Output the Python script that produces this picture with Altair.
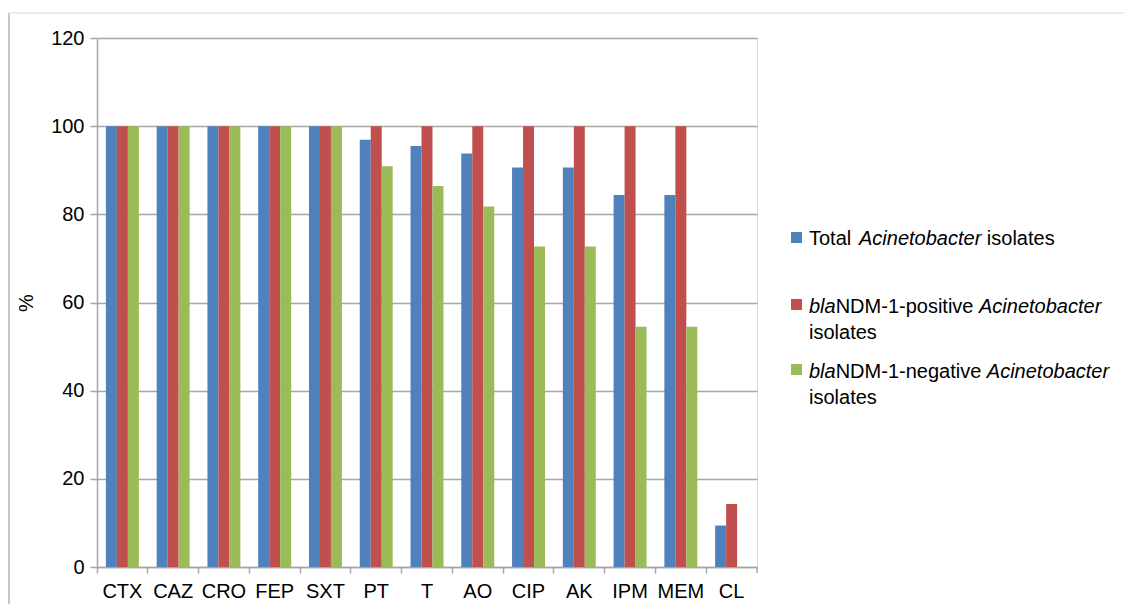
import altair as alt
import pandas as pd

drugs = ["CTX", "CAZ", "CRO", "FEP", "SXT", "PT", "T", "AO", "CIP", "AK", "IPM", "MEM", "CL"]
series = [
    "Total Acinetobacter isolates",
    "blaNDM-1-positive Acinetobacter isolates",
    "blaNDM-1-negative Acinetobacter isolates",
]
total = [100, 100, 100, 100, 100, 96.9, 95.5, 93.8, 90.6, 90.6, 84.4, 84.4, 9.4]
positive = [100, 100, 100, 100, 100, 100, 100, 100, 100, 100, 100, 100, 14.3]
negative = [100, 100, 100, 100, 100, 90.9, 86.4, 81.8, 72.7, 72.7, 54.5, 54.5, 0]
colors = ["#4F81BD", "#C0504D", "#9BBB59"]
y_ticks = [0, 20, 40, 60, 80, 100, 120]

rows = []
for s, vals in zip(series, [total, positive, negative]):
    for d, v in zip(drugs, vals):
        rows.append({"Drug": d, "Series": s, "Value": v})
df = pd.DataFrame(rows)
one = pd.DataFrame({"k": [0]})

W, H = 660, 529
FONT = "Liberation Sans"
FS = 20
GRID = "#a6a6a6"

bars = alt.Chart(df).mark_bar(stroke=None).encode(
    x=alt.X("Drug:N", sort=drugs, title=None,
            scale=alt.Scale(paddingInner=0, paddingOuter=0),
            axis=alt.Axis(labelAngle=0, bandPosition=0, tickSize=6, labelPadding=8,
                          domainColor=GRID, tickColor=GRID, domainWidth=1.5, tickWidth=1.5,
                          labelFont=FONT, labelFontSize=FS, labelColor="#000000", grid=False)),
    xOffset=alt.XOffset("Series:N", sort=series,
                        scale=alt.Scale(paddingInner=0, paddingOuter=0.81)),
    y=alt.Y("Value:Q", title="%", scale=alt.Scale(domain=[0, 120], nice=False),
            axis=alt.Axis(values=y_ticks, tickSize=7, labelPadding=6, grid=True,
                          gridColor=GRID, gridWidth=1.5, domainColor=GRID, tickColor=GRID,
                          domainWidth=1.5, tickWidth=1.5,
                          labelFont=FONT, labelFontSize=FS, labelColor="#000000",
                          titleFont=FONT, titleFontSize=FS, titleFontWeight="normal",
                          titleColor="#000000", titlePadding=14)),
    color=alt.Color("Series:N", sort=series, scale=alt.Scale(domain=series, range=colors),
                    legend=None),
)

layers = [bars]

# last x-axis tick at right edge
layers.append(alt.Chart(one).mark_rule(color=GRID, strokeWidth=1.5).encode(
    x=alt.value(W), y=alt.value(H), y2=alt.value(H + 6)))

# frame lines of original figure
layers.append(alt.Chart(one).mark_rule(color="#b3b3b3", strokeWidth=1.5).encode(
    x=alt.value(-88), y=alt.value(-25), y2=alt.value(H + 37)))
layers.append(alt.Chart(one).mark_rule(color="#e6e6e6", strokeWidth=1.5).encode(
    x=alt.value(-88), x2=alt.value(1027), y=alt.value(-25)))

# custom legend (mixed italic text)
widths = {
    " ": 278, "a": 556, "b": 556, "c": 500, "e": 556, "g": 556, "i": 222, "l": 222,
    "n": 556, "o": 556, "p": 556, "r": 333, "s": 500, "t": 278, "v": 500,
    "A": 667, "D": 722, "M": 833, "N": 722, "T": 611, "-": 333, "1": 556,
}

def tw(s):
    return sum(widths[c] for c in s) * FS / 1000.0

legend_lines = [
    [("Total ", False), ("Acinetobacter", True), (" isolates", False)],
    [("bla", True), ("NDM-1-positive ", False), ("Acinetobacter", True)],
    [("isolates", False)],
    [("bla", True), ("NDM-1-negative ", False), ("Acinetobacter", True)],
    [("isolates", False)],
]
baselines = [207, 274.5, 301, 339.5, 366]
square_y = [194, 261, 326]
text_x = 712

for segs, by in zip(legend_lines, baselines):
    x = text_x
    for txt, ital in segs:
        lead = len(txt) - len(txt.lstrip(" "))
        x += tw(" " * lead)
        core = txt.strip(" ")
        layers.append(alt.Chart(one).mark_text(
            text=core, font=FONT, fontSize=FS, fontStyle="italic" if ital else "normal",
            align="left", baseline="alphabetic", color="#000000").encode(
            x=alt.value(x), y=alt.value(by)))
        x += tw(core) + tw(" " * (len(txt) - len(txt.rstrip(" "))))

for sy, col in zip(square_y, colors):
    layers.append(alt.Chart(one).mark_rect(color=col).encode(
        x=alt.value(694), x2=alt.value(705), y=alt.value(sy), y2=alt.value(sy + 11)))

chart = alt.layer(*layers).properties(
    width=W, height=H,
    padding={"left": 0, "top": 4, "right": 0, "bottom": 0},
).configure_view(stroke=None).configure(background="white")

chart.save("out.html", embed_options={"renderer": "svg", "actions": False})
